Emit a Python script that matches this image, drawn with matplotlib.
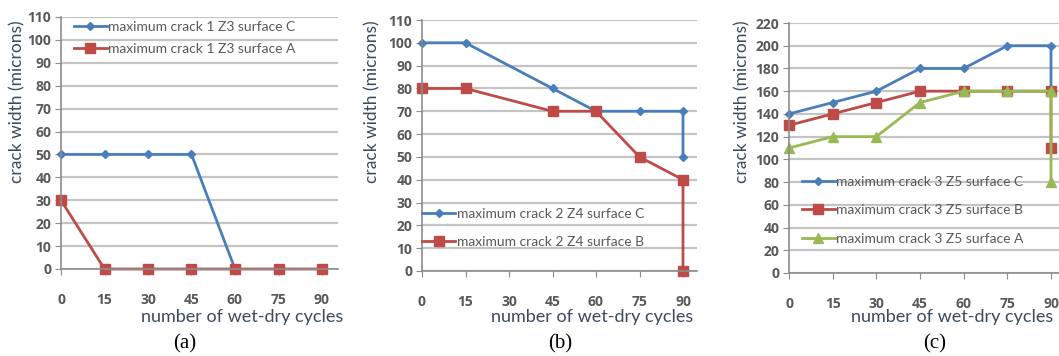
import numpy as np
import matplotlib
matplotlib.use("Agg")
import matplotlib.pyplot as plt


# =============================================================================
# Data
# =============================================================================

x_a_c = [0, 15, 30, 45, 60]
y_a_c = [50, 50, 50, 50, 0]
x_a_a = [0, 15, 30, 45, 60, 75, 90]
y_a_a = [30, 0, 0, 0, 0, 0, 0]

x_b_c = [0, 15, 45, 60, 75, 90, 90]
y_b_c = [100, 100, 80, 70, 70, 70, 50]
x_b_b = [0, 15, 45, 60, 75, 90, 90]
y_b_b = [80, 80, 70, 70, 50, 40, 0]

x_c_c = [0, 15, 30, 45, 60, 75, 90, 90]
y_c_c = [140, 150, 160, 180, 180, 200, 200, 160]
x_c_b = [0, 15, 30, 45, 60, 75, 90, 90]
y_c_b = [130, 140, 150, 160, 160, 160, 160, 110]
x_c_a = [0, 15, 30, 45, 60, 75, 90, 90]
y_c_a = [110, 120, 120, 150, 160, 160, 160, 80]

x_ticks = [0, 15, 30, 45, 60, 75, 90]


# =============================================================================
# Style
# =============================================================================

W, H = 1059, 356
BLUE = "#4a7ebb"
RED = "#be4b48"
GREEN = "#98b954"
GRID = "#c4c4c4"
TICK = "#595959"
LABEL = "#3b4a5e"

plt.rcParams["font.family"] = ["Lato", "DejaVu Sans"]

fig = plt.figure(figsize=(W / 100, H / 100), dpi=100)


def px_axes(left, top, right, bottom):
    return fig.add_axes([left / W, 1 - bottom / H, (right - left) / W, (bottom - top) / H])


def style(ax, xmax, ymax, ystep):
    ax.set_xlim(0, xmax)
    ax.set_ylim(0, ymax)
    ax.set_xticks(x_ticks)
    ax.set_yticks(np.arange(0, ymax + 1, ystep))
    ax.grid(axis="y", color=GRID, linewidth=1.6)
    ax.set_axisbelow(True)
    for side in ("top", "right"):
        ax.spines[side].set_visible(False)
    for side in ("left", "bottom"):
        ax.spines[side].set_color("#8c8c8c")
        ax.spines[side].set_linewidth(1.2)
    ax.tick_params(axis="both", direction="out", length=4, color="#8c8c8c",
                   labelcolor=TICK, labelsize=10)
    ax.tick_params(axis="x", pad=13)
    ax.tick_params(axis="y", pad=3)
    for lab in ax.get_xticklabels() + ax.get_yticklabels():
        lab.set_fontweight("bold")
        lab.set_family(["Open Sans", "DejaVu Sans"])


line_kw = dict(linewidth=2.0, clip_on=False)
diamond = dict(marker="D", markersize=4.5, color=BLUE)
square = dict(marker="s", markersize=7, color=RED)
triangle = dict(marker="^", markersize=6.5, color=GREEN)
legend_kw = dict(loc="upper left", frameon=False, fontsize=10, handlelength=2.4,
                 handletextpad=0.1, labelcolor=TICK)


# =============================================================================
# Panel (a)
# =============================================================================

ax_a = px_axes(61, 17, 338, 269)
style(ax_a, 90 * 277 / 261, 110, 10)
ax_a.plot(x_a_c, y_a_c, label="maximum crack 1 Z3 surface C", **diamond, **line_kw)
ax_a.plot(x_a_a, y_a_a, label="maximum crack 1 Z3 surface A", **square, **line_kw)
ax_a.legend(bbox_to_anchor=(0.0, 1.035), labelspacing=0.75, **legend_kw)

# =============================================================================
# Panel (b)
# =============================================================================

ax_b = px_axes(422, 20, 697, 271)
style(ax_b, 90 * 275 / 261, 110, 10)
ax_b.plot(x_b_c, y_b_c, label="maximum crack 2 Z4 surface C", **diamond, **line_kw)
ax_b.plot(x_b_b, y_b_b, label="maximum crack 2 Z4 surface B", **square, **line_kw)
ax_b.legend(bbox_to_anchor=(-0.045, 0.30), labelspacing=1.15, **legend_kw)

# =============================================================================
# Panel (c)
# =============================================================================

ax_c = px_axes(789, 23, 1059, 273)
style(ax_c, 90 * 270 / 262, 220, 20)
ax_c.plot(x_c_c, y_c_c, label="maximum crack 3 Z5 surface C", **diamond, **line_kw)
ax_c.plot(x_c_b, y_c_b, label="maximum crack 3 Z5 surface B", **square, **line_kw)
ax_c.plot(x_c_a, y_c_a, label="maximum crack 3 Z5 surface A", **triangle, **line_kw)
ax_c.legend(bbox_to_anchor=(0.0, 0.44), labelspacing=1.2, **legend_kw)

# =============================================================================
# Labels and captions
# =============================================================================

for ax, ylx, xl_right, cap_x, cap in (
    (ax_a, 17, 343, 185, "(a)"),
    (ax_b, 372, 693, 560, "(b)"),
    (ax_c, 742, 1053, 935, "(c)"),
):
    fig.text(ylx / W, 1 - 102 / H, "crack width (microns)", rotation=90,
             ha="center", va="center", fontsize=12.5, color=LABEL)
    fig.text(xl_right / W, 1 - 317 / H, "number of wet-dry cycles",
             ha="right", va="center", fontsize=13, color=LABEL)
    fig.text(cap_x / W, 1 - 344 / H, cap, ha="center", va="center",
             fontsize=15, family="Liberation Serif", color="black")

fig.savefig("out.png", dpi=100)
